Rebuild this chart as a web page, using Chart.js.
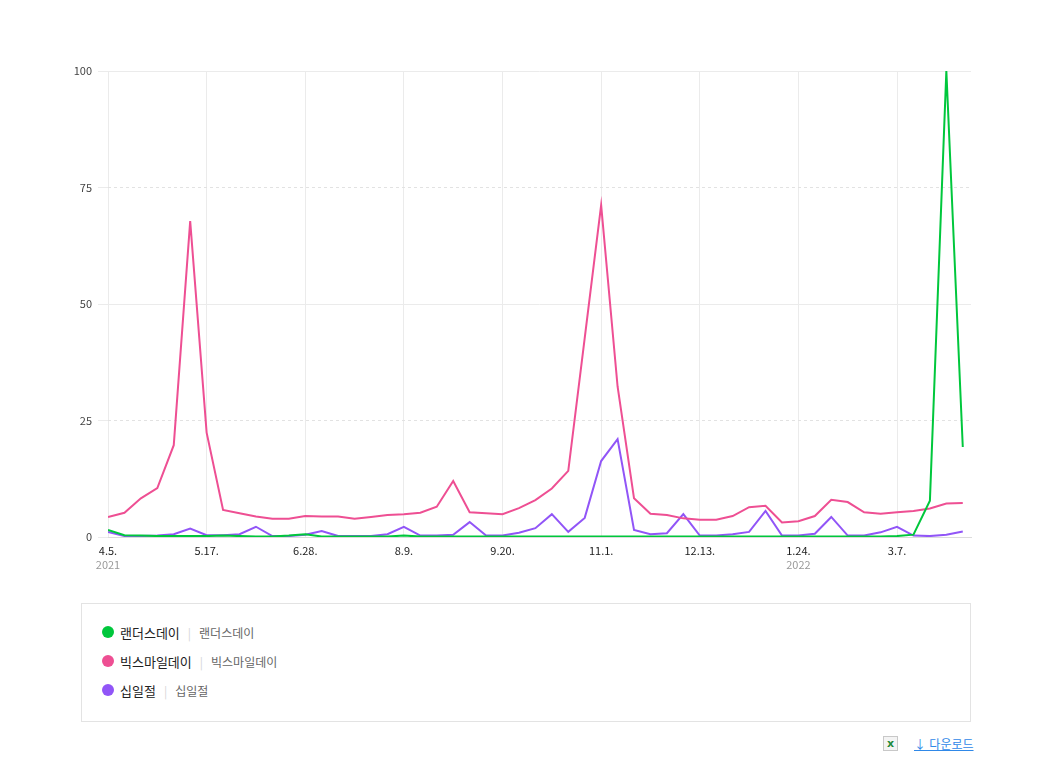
<!DOCTYPE html>
<html lang="ko">
<head>
<meta charset="utf-8">
<title>검색어 트렌드</title>
<script src="https://cdn.jsdelivr.net/npm/chart.js@4/dist/chart.umd.min.js"></script>
<style>
  html, body { margin: 0; padding: 0; background: #fff; }
  body { width: 1056px; height: 783px; position: relative; font-family: "Noto Sans CJK KR", "Noto Sans", sans-serif; }
  #chart-wrap { position: absolute; left: 40px; top: 40px; width: 950px; height: 545px; }
  #legend-box {
    position: absolute; left: 81px; top: 603px; width: 888px; height: 117px;
    border: 1px solid #e3e3e3; box-sizing: content-box;
  }
  .row { position: absolute; left: 20px; height: 20px; display: flex; align-items: center; font-size: 13px; }
  .dot { width: 12px; height: 12px; border-radius: 50%; margin-right: 6px; }
  .name { color: #222; }
  .sep { color: #d6d6d6; margin: 0 8px; font-size: 12px; }
  .sub { color: #666; font-size: 12px; }
  #download { position: absolute; left: 883px; top: 735px; display: flex; align-items: center; }
  .xls {
    width: 13px; height: 13px; border: 1px solid #c8c8c8; background: #f4f4f4;
    color: #1f8a3b; font: bold 11px/13px "DejaVu Sans", sans-serif; text-align: center;
  }
  .dl { margin-left: 16px; color: #2f88e8; font-size: 12px; text-decoration: underline; }
</style>
</head>
<body>
<div id="chart-wrap"><canvas id="trendChart"></canvas></div>
<div id="legend-box"></div>
<div id="download"><span class="xls">x</span><span class="dl">↓ 다운로드</span></div>
<script>
// --- Data (weekly, 2021.4.5 ~ 2022.4.4) ---
const seriesNames = ["랜더스데이", "빅스마일데이", "십일절"];
const seriesColors = ["#00c73c", "#ee4f93", "#9155f7"];

const landers = [1.5, 0.4, 0.3, 0.2, 0.2, 0.2, 0.2, 0.3, 0.2, 0.1,
  0.1, 0.3, 0.6, 0.1, 0.1, 0.1, 0.1, 0.1, 0.3, 0.1,
  0.1, 0.1, 0.1, 0.1, 0.1, 0.1, 0.1, 0.1, 0.1, 0.1,
  0.1, 0.1, 0.1, 0.1, 0.1, 0.1, 0.1, 0.1, 0.1, 0.1,
  0.1, 0.1, 0.1, 0.1, 0.1, 0.1, 0.1, 0.1, 0.2, 0.5,
  7.8, 100, 19.3];
const bigSmile = [4.3, 5.2, 8.3, 10.5, 19.7, 67.8, 22.4, 5.8, 5.1, 4.4,
  3.9, 3.9, 4.5, 4.4, 4.4, 3.9, 4.3, 4.7, 4.9, 5.2,
  6.5, 12.0, 5.3, 5.1, 4.9, 6.2, 7.9, 10.4, 14.2, 42.7,
  71.2, 32.3, 8.3, 5.0, 4.7, 4.0, 3.7, 3.7, 4.5, 6.4,
  6.7, 3.1, 3.4, 4.5, 8.0, 7.5, 5.3, 5.0, 5.3, 5.6,
  6.1, 7.2, 7.3];
const elevenDay = [1.1, 0.2, 0.2, 0.3, 0.6, 1.8, 0.4, 0.4, 0.6, 2.2,
  0.2, 0.2, 0.5, 1.3, 0.2, 0.2, 0.2, 0.6, 2.2, 0.3,
  0.3, 0.5, 3.2, 0.3, 0.3, 0.9, 1.9, 4.9, 1.1, 4.1,
  16.3, 21.0, 1.5, 0.6, 0.8, 4.9, 0.3, 0.3, 0.6, 1.1,
  5.6, 0.3, 0.3, 0.7, 4.3, 0.3, 0.3, 1.0, 2.2, 0.3,
  0.2, 0.5, 1.2];

// x tick every 6 weeks
const tickLabels = ["4.5.", "5.17.", "6.28.", "8.9.", "9.20.", "11.1.", "12.13.", "1.24.", "3.7."];
const yearWeeks = [0, 42];
const yearLabels = ["2021", "2022"];
const yTicks = [0, 25, 50, 75, 100];

const toPoints = arr => arr.map((v, i) => ({ x: i, y: v }));
const allSeries = [landers, bigSmile, elevenDay];

// --- Legend ---
const legendBox = document.getElementById("legend-box");
seriesNames.forEach((name, i) => {
  const row = document.createElement("div");
  row.className = "row";
  row.style.top = (18 + i * 29) + "px";
  row.innerHTML = `<span class="dot" style="background:${seriesColors[i]}"></span>` +
    `<span class="name">${name}</span><span class="sep">|</span><span class="sub">${name}</span>`;
  legendBox.appendChild(row);
});

// year labels under ticks
const yearPlugin = {
  id: "yearLabels",
  afterDraw(chart) {
    const ctx = chart.ctx;
    const xs = chart.scales.x;
    ctx.save();
    ctx.font = "11px 'Noto Sans CJK KR', sans-serif";
    ctx.fillStyle = "#999";
    ctx.textAlign = "center";
    ctx.textBaseline = "middle";
    yearWeeks.forEach((w, i) => {
      ctx.fillText(yearLabels[i], xs.getPixelForValue(w), chart.chartArea.bottom + 28);
    });
    ctx.restore();
  }
};

const tickFont = { family: "'Noto Sans CJK KR', sans-serif", size: 11 };

new Chart(document.getElementById("trendChart"), {
  type: "line",
  data: {
    datasets: allSeries.map((s, i) => ({
      label: seriesNames[i],
      data: toPoints(s),
      borderColor: seriesColors[i],
      backgroundColor: seriesColors[i],
      borderWidth: 2,
      pointRadius: 0,
      tension: 0,
      fill: false
    }))
  },
  options: {
    responsive: true,
    maintainAspectRatio: false,
    animation: false,
    layout: { padding: { top: 31, right: 19, left: 0, bottom: 0 } },
    plugins: { legend: { display: false }, tooltip: { enabled: false } },
    scales: {
      x: {
        type: "linear",
        min: 0,
        max: 52.5,
        afterFit: s => { s.height = 48; },
        afterBuildTicks: s => { s.ticks = s.ticks.filter(t => t.value % 6 === 0 && t.value <= 48); },
        ticks: {
          stepSize: 6,
          includeBounds: false,
          autoSkip: false,
          maxRotation: 0,
          padding: 7,
          color: "#222",
          font: tickFont,
          callback: v => tickLabels[v / 6]
        },
        grid: { color: "#ebebeb", drawTicks: false, lineWidth: 1 },
        border: { display: true, color: "#dcdcdc" }
      },
      y: {
        min: 0,
        max: 100,
        afterFit: s => { s.width = 68; },
        ticks: {
          stepSize: 25,
          padding: 6,
          color: "#444",
          font: tickFont
        },
        grid: {
          drawTicks: true,
          tickLength: 10,
          color: c => (c.tick && c.tick.value % 50 === 0) ? "#ebebeb" : "rgba(0,0,0,0)",
          tickColor: "#ebebeb"
        },
        border: { display: false }
      },
      y2: {
        position: "right",
        min: 0,
        max: 100,
        afterFit: s => { s.width = 0; },
        ticks: { stepSize: 25, display: false },
        grid: {
          drawTicks: false,
          color: c => (c.tick && c.tick.value % 50 === 25) ? "#e2e2e2" : "rgba(0,0,0,0)"
        },
        border: { display: false, dash: [3, 3] }
      }
    }
  },
  plugins: [yearPlugin]
});
</script>
</body>
</html>
